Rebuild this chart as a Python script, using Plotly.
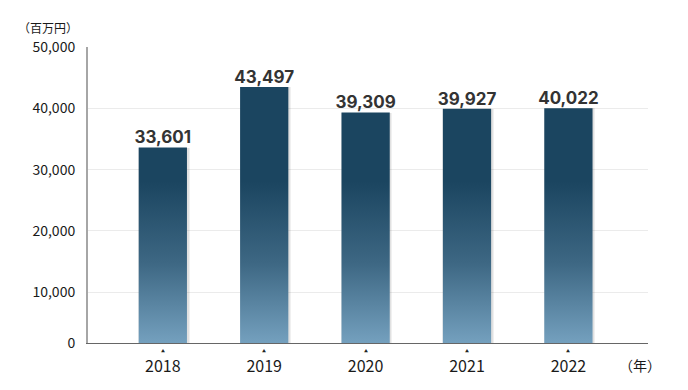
import plotly.graph_objects as go

years = ["2018", "2019", "2020", "2021", "2022"]
values = [33601, 43497, 39309, 39927, 40022]
ytick_vals = [10000, 20000, 30000, 40000, 50000]
ytick_text = ["10,000", "20,000", "30,000", "40,000", "50,000"]
y_unit = "（百万円）"
x_unit = "（年）"

Y_MIN = 1730
Y_MAX = 50000
BAR_W = 0.476
xs = list(range(len(years)))

fig = go.Figure()

# soft shadow behind bars
fig.add_trace(go.Bar(
    x=xs, y=values, width=BAR_W + 0.03, offset=-BAR_W / 2 - 0.005,
    marker=dict(color="rgba(0,0,0,0.06)", line=dict(width=0)),
    hoverinfo="skip", showlegend=False,
))
fig.add_trace(go.Bar(
    x=xs, y=values, width=BAR_W + 0.012, offset=-BAR_W / 2 + 0.004,
    marker=dict(color="rgba(0,0,0,0.06)", line=dict(width=0)),
    hoverinfo="skip", showlegend=False,
))

# gradient-filled bars
for i, v in zip(xs, values):
    x0, x1 = i - BAR_W / 2, i + BAR_W / 2
    fig.add_trace(go.Scatter(
        x=[x0, x0, x1, x1, x0], y=[0, v, v, 0, 0],
        mode="none", fill="toself",
        fillgradient=dict(type="vertical", start=Y_MIN, stop=28000,
                          colorscale=[[0, "#74a0be"], [0.5, "#3d6783"], [1, "#1b4560"]]),
        hoverinfo="skip", showlegend=False,
    ))

# value labels
fig.add_trace(go.Scatter(
    x=xs, y=values, mode="text", text=[f"{v:,}" for v in values],
    textposition="top center", cliponaxis=False,
    textfont=dict(family="Inter, Noto Sans, sans-serif", size=17, color="#333333", weight="bold"),
    hoverinfo="skip", showlegend=False,
))

fig.update_layout(
    width=680, height=382,
    margin=dict(l=80, r=40, t=39, b=47, autoexpand=False),
    paper_bgcolor="white", plot_bgcolor="white",
    font=dict(family="Noto Sans CJK JP, Noto Sans, sans-serif", color="#222222"),
    showlegend=False,
    bargap=0,
)

fig.update_xaxes(
    range=[-0.738, 4.785], tickmode="array", tickvals=xs, ticktext=years,
    showgrid=False, zeroline=False, ticks="",
    showline=True, linecolor="#666666", linewidth=1,
    tickfont=dict(size=16, color="#1a1a1a"), ticklabelstandoff=9,
)

fig.update_yaxes(
    range=[Y_MIN, Y_MAX], tickmode="array",
    tickvals=[Y_MIN] + ytick_vals, ticktext=["0"] + ytick_text,
    showgrid=True, gridcolor="#ebebeb", gridwidth=1, zeroline=False,
    showline=True, linecolor="#a6a6a6", linewidth=2, ticks="",
    tickfont=dict(size=14, color="#1a1a1a"), ticklabelstandoff=8,
)

# small tick markers above year labels
for i in xs:
    fig.add_annotation(
        text="▲", xref="x", yref="paper", x=i, y=-0.027,
        xanchor="center", yanchor="middle", showarrow=False,
        font=dict(size=4, color="#222222"),
    )

fig.add_annotation(
    text=y_unit, xref="paper", yref="paper", x=-0.014, y=1.067,
    xanchor="right", yanchor="middle", showarrow=False,
    font=dict(size=12, color="#1a1a1a"),
)
fig.add_annotation(
    text=x_unit, xref="paper", yref="paper", x=0.986, y=-0.073,
    xanchor="center", yanchor="middle", showarrow=False,
    font=dict(size=14, color="#1a1a1a"),
)

fig.write_html("out.html")
